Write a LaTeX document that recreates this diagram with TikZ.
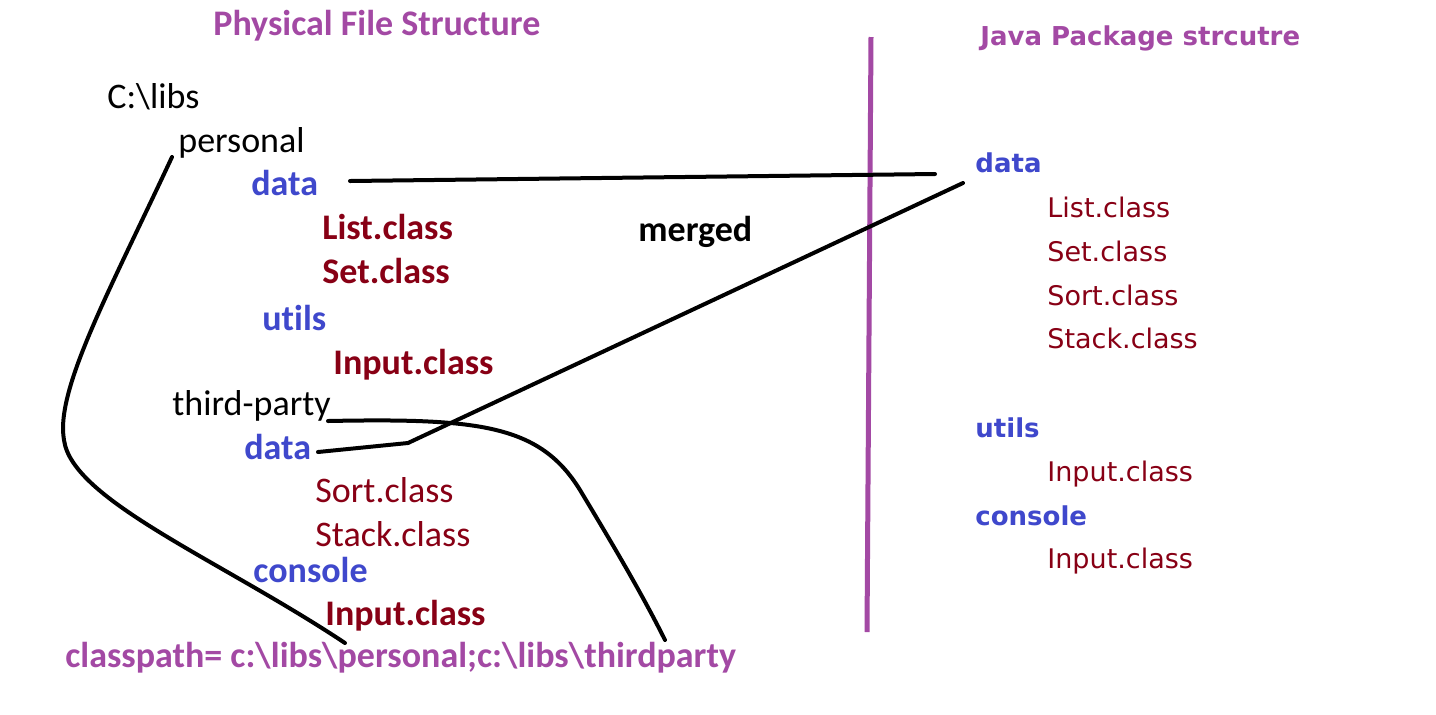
\documentclass[tikz,border=0pt]{standalone}
\usepackage{fontspec}
\setmainfont{Carlito}[Ligatures=NoCommon]
\newfontfamily\vfont{DejaVu Sans}
\definecolor{ppurple}{HTML}{A349A4}
\definecolor{pblue}{HTML}{3F48CC}
\definecolor{pred}{HTML}{880015}
\tikzset{
  lt/.style={anchor=base west, inner sep=0pt, font=\fontsize{18}{20}\selectfont},
  pkg/.style={lt, text=pblue, font=\fontsize{18}{20}\selectfont\bfseries},
  clsb/.style={lt, text=pred, font=\fontsize{18}{20}\selectfont\bfseries},
  cls/.style={lt, text=pred},
  ttl/.style={lt, text=ppurple, font=\fontsize{18}{20}\selectfont\bfseries},
  rpkg/.style={anchor=base west, inner sep=0pt, text=pblue, font=\vfont\fontsize{13}{15}\selectfont\bfseries},
  rcls/.style={anchor=base west, inner sep=0pt, text=pred, font=\vfont\fontsize{13.5}{15}\selectfont},
  link/.style={line width=2pt, black, line cap=round, line join=round},
}
\begin{document}
\begin{tikzpicture}[x=0.5pt, y=-0.5pt]
\useasboundingbox[fill=white] (0,0) rectangle (1436,714);
% left texts
\node[ttl] (t1) at (213,35) {Physical File Structure};
\node[lt] (root) at (107,108) {C:\textbackslash libs};
\node[lt] (personal) at (178,152) {personal};
\node[pkg] (pdata) at (251,195) {data};
\node[clsb] (plist) at (322,239) {List.class};
\node[clsb] (pset) at (322,283) {Set.class};
\node[pkg] (putils) at (262,330) {ut\kern0pt ils};
\node[clsb] (pinput) at (333,374) {Input.class};
\node[lt] (third) at (172,415) {third-party};
\node[pkg] (tdata) at (244,459) {data};
\node[cls] (tsort) at (315,502) {Sort.class};
\node[cls] (tstack) at (315,546) {Stack.class};
\node[pkg] (tconsole) at (253,582) {console};
\node[clsb] (tinput) at (325,625) {Input.class};
\node[lt, font=\fontsize{18}{20}\selectfont\bfseries] (merged) at (638,241) {merged};
\node[ttl] (cp) at (65,667) {classpath= c:\textbackslash libs\textbackslash personal;c:\textbackslash libs\textbackslash thirdparty};
% right texts
\node[anchor=base west, inner sep=0pt, text=ppurple, font=\vfont\fontsize{13}{15}\selectfont\bfseries] (t2) at (980,45) {Java Package strcutre};
\node[rpkg] (jdata) at (975,172) {data};
\node[rcls] (jlist) at (1047,217) {List.class};
\node[rcls] (jset) at (1047,261) {Set.class};
\node[rcls] (jsort) at (1047,305) {Sort.class};
\node[rcls] (jstack) at (1047,348) {Stack.class};
\node[rpkg] (jutils) at (975,437) {utils};
\node[rcls] (jinput) at (1047,481) {Input.class};
\node[rpkg] (jconsole) at (975,525) {console};
\node[rcls] (jinput2) at (1047,568) {Input.class};
% divider
\coordinate (vtop) at (871,37);
\coordinate (vbot) at (867,632);
\draw[ppurple, line width=2.5pt] (vtop) -- (vbot);
% connectors
\coordinate (a1) at (350,181);
\coordinate (a2) at (935,174);
\draw[link] (a1) -- (a2);
\coordinate (b1) at (318,452);
\coordinate (b2) at (408,443);
\coordinate (b3) at (963,183);
\draw[link] (b1) -- (b2) -- (b3);
\coordinate (c1) at (172,157);
\coordinate (c2) at (64,440);
\coordinate (c3) at (345,643);
\draw[link] (c1) .. controls (110,290) and (55,390) .. (c2) .. controls (72,500) and (220,560) .. (c3);
\coordinate (d1) at (328,421);
\coordinate (d2) at (580,490);
\coordinate (d3) at (665,640);
\draw[link] (d1) .. controls (480,418) and (540,425) .. (d2) .. controls (610,540) and (640,590) .. (d3);
\end{tikzpicture}
\end{document}
